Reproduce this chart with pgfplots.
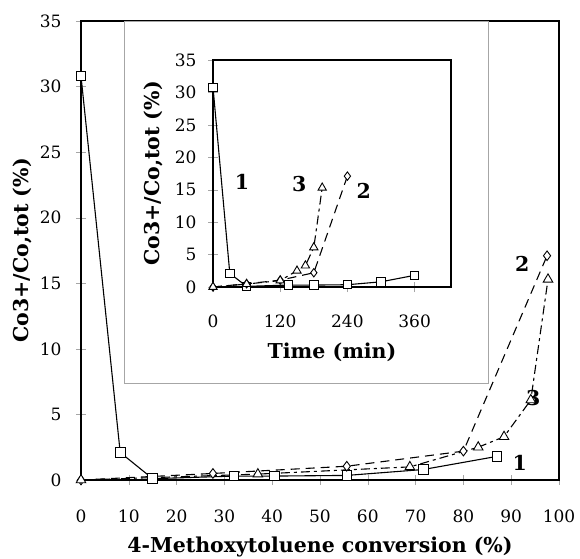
\documentclass[border=0pt]{standalone}
\usepackage{fontspec}
\setmainfont{DejaVu Serif}
\usepackage{pgfplots}
\pgfplotsset{compat=1.18}

\newcommand\lblfont{\bfseries\fontsize{20.5}{24}\selectfont}
\pgfplotsset{
  excelstyle/.style={
    scale only axis,
    axis line style={line width=1.2pt},
    tick align=center,
    major tick length=10pt,
    tick style={gray!70, line width=0.4pt},
    xtick pos=bottom, ytick pos=left,
    /pgf/number format/assume math mode=true,
    tick label style={font=\fontsize{17}{20}\selectfont},
    label style={font=\lblfont},
    ymin=0, ymax=35, ytick={0,5,...,35},
  },
  s1/.style={black, line width=1.1pt, mark=square*, mark size=4.8pt, mark options={fill=white, solid, line width=0.9pt}},
  s2/.style={black, line width=1.1pt, dash pattern=on 9pt off 6pt, mark=diamond*, mark size=4.8pt, mark options={fill=white, solid, line width=0.9pt}},
  s3/.style={black, line width=1.1pt, dash pattern=on 9pt off 4pt on 3pt off 4pt, mark=triangle*, mark size=5.5pt, mark options={fill=white, solid, line width=0.9pt}},
}

\begin{document}
\begin{tikzpicture}
\path[use as bounding box] (-81pt,-78pt) rectangle (499pt,480pt);

% main chart
\begin{axis}[excelstyle,
  at={(0pt,0pt)}, anchor=south west,
  width=478pt, height=459pt,
  xmin=0, xmax=100, xtick={0,10,...,100},
  xticklabel style={yshift=-21pt},
  yticklabel style={xshift=-11pt},
  xlabel={4-Methoxytoluene conversion (\%)},
  ylabel={Co3+/Co,tot (\%)},
  xlabel style={at={(axis description cs:0.5,0)}, anchor=center, yshift=-67pt},
  ylabel style={at={(axis description cs:0,0.5)}, anchor=center, yshift=59pt},
  clip=false,
]
  % 1: squares, solid
  \addplot[s1] coordinates {
    (0,30.8) (8.2,2.1) (15,0.1) (32,0.3) (40.5,0.3) (55.6,0.35) (71.6,0.8) (87,1.8)
  };
  % 2: diamonds, dashed
  \addplot[s2] coordinates {
    (0,0) (27.6,0.5) (55.6,1.05) (80,2.2) (97.5,17.1)
  };
  % 3: triangles, dash-dot
  \addplot[s3] coordinates {
    (0,0) (37,0.45) (68.8,1.0) (83.1,2.5) (88.5,3.3) (94.1,6.1) (97.7,15.3)
  };
  \node[font=\lblfont] at (axis cs:92.3,16.5) {2};
  \node[font=\lblfont] at (axis cs:94.6,6.25) {3};
  \node[font=\lblfont] at (axis cs:91.8,1.3) {1};
\end{axis}

% inset chart area
\draw[gray!70, line width=0.6pt, fill=white] (43pt,97pt) rectangle (407pt,459pt);

\begin{axis}[excelstyle,
  at={(132pt,193pt)}, anchor=south west,
  width=238pt, height=227pt,
  xmin=0, xmax=425, xtick={0,120,240,360},
  xticklabel style={yshift=-19pt},
  yticklabel style={xshift=-8pt},
  xlabel={Time (min)},
  ylabel={Co3+/Co,tot (\%)},
  xlabel style={at={(axis description cs:0.5,0)}, anchor=center, yshift=-65pt},
  ylabel style={at={(axis description cs:0,0.5)}, anchor=center, yshift=60pt},
  clip=false,
]
  \addplot[s1, mark size=4.2pt] coordinates {
    (0,30.8) (30,2.1) (60,0.1) (135,0.3) (180,0.3) (240,0.35) (300,0.8) (360,1.8)
  };
  \addplot[s2, mark size=4.2pt] coordinates {
    (0,0) (60,0.5) (120,1.05) (180,2.2) (240,17.1)
  };
  \addplot[s3, mark size=4.8pt] coordinates {
    (0,0) (60,0.45) (120,1.0) (150,2.5) (165,3.3) (180,6.1) (195,15.3)
  };
  \node[font=\lblfont] at (axis cs:52,16.2) {1};
  \node[font=\lblfont] at (axis cs:154,15.9) {3};
  \node[font=\lblfont] at (axis cs:269,14.8) {2};
\end{axis}
\end{tikzpicture}
\end{document}
